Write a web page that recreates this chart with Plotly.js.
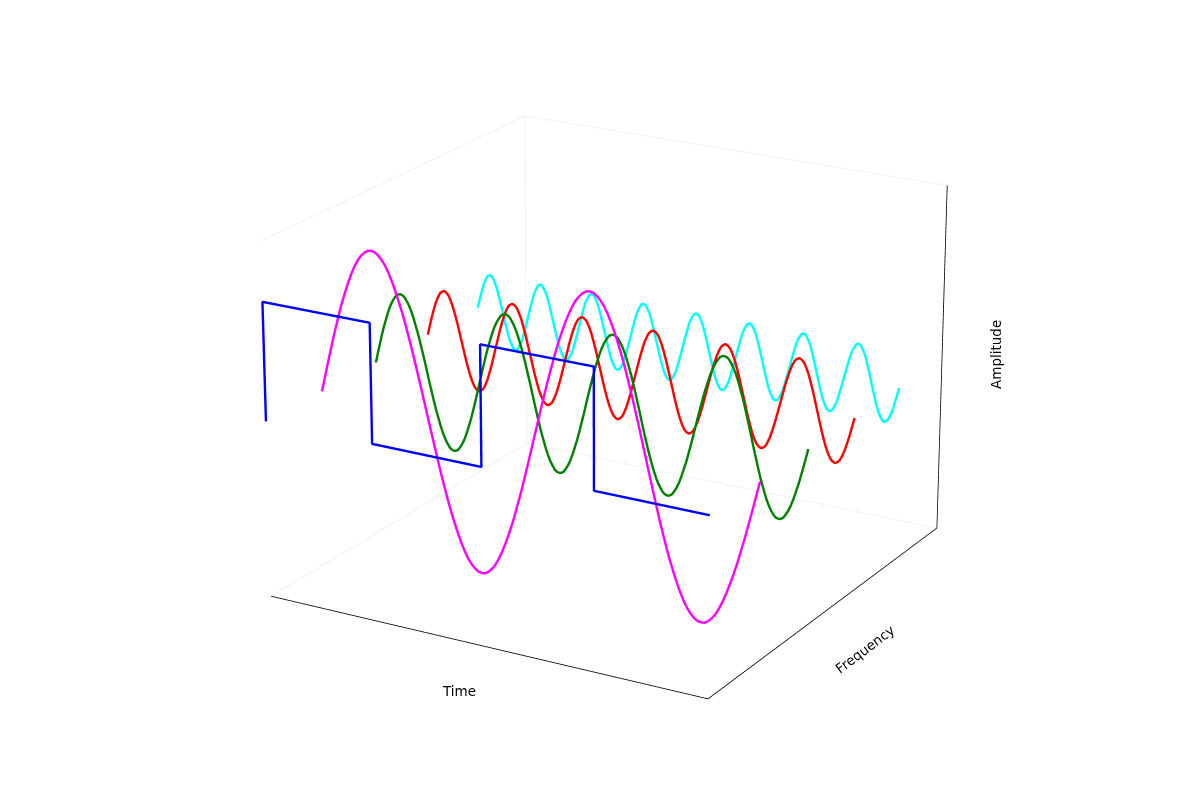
<!DOCTYPE html>
<html>
<head>
<meta charset="utf-8">
<script src="https://cdn.plot.ly/plotly-3.0.1.min.js"></script>
<style>html,body{margin:0;padding:0;background:#fff}#chart{width:1200px;height:800px}</style>
</head>
<body>
<div id="chart"></div>
<script>
var timeMax = 4;
var timeLimit = [0, 4];
var freqLimit = [0, 5];
var ampLimit = [-3, 3];
var depth = {square: 0, first: 1, second: 2, third: 3, fourth: 4};

var squareTime = [0, 0, 1, 1, 2, 2, 3, 3, 4];
var squareAmp = [0, 2, 2, 0, 0, 2, 2, 0, 0];

var firstAmp = [
0,.25,.5,.74,.98,1.2,1.42,1.62,1.8,1.97,2.12,2.25,2.36,2.44,2.5,2.54,2.55,2.54,2.5,2.44,2.36,2.25,2.12,1.97,1.8,1.62,1.42,1.2,.98,.74,.5,.25,
0,-.25,-.5,-.74,-.98,-1.2,-1.42,-1.62,-1.8,-1.97,-2.12,-2.25,-2.36,-2.44,-2.5,-2.54,-2.55,-2.54,-2.5,-2.44,-2.36,-2.25,-2.12,-1.97,-1.8,-1.62,-1.42,-1.2,-.98,-.74,-.5,-.25,
0,.25,.5,.74,.98,1.2,1.42,1.62,1.8,1.97,2.12,2.25,2.36,2.44,2.5,2.54,2.55,2.54,2.5,2.44,2.36,2.25,2.12,1.97,1.8,1.62,1.42,1.2,.98,.74,.5,.25,
0,-.25,-.5,-.74,-.98,-1.2,-1.42,-1.62,-1.8,-1.97,-2.12,-2.25,-2.36,-2.44,-2.5,-2.54,-2.55,-2.54,-2.5,-2.44,-2.36,-2.25,-2.12,-1.97,-1.8,-1.62,-1.42,-1.2,-.98,-.74,-.5,-.25,0];

var secondAmp = [
0,.17,.33,.49,.64,.77,.9,1.01,1.1,1.17,1.23,1.26,1.27,1.26,1.23,1.17,1.1,1.01,.9,.77,.64,.49,.33,.17,
0,-.17,-.33,-.49,-.64,-.77,-.9,-1.01,-1.1,-1.17,-1.23,-1.26,-1.27,-1.26,-1.23,-1.17,-1.1,-1.01,-.9,-.77,-.64,-.49,-.33,-.17,
0,.17,.33,.49,.64,.77,.9,1.01,1.1,1.17,1.23,1.26,1.27,1.26,1.23,1.17,1.1,1.01,.9,.77,.64,.49,.33,.17,
0,-.17,-.33,-.49,-.64,-.77,-.9,-1.01,-1.1,-1.17,-1.23,-1.26,-1.27,-1.26,-1.23,-1.17,-1.1,-1.01,-.9,-.77,-.64,-.49,-.33,-.17,
0,.17,.33,.49,.64,.77,.9,1.01,1.1,1.17,1.23,1.26,1.27,1.26,1.23,1.17,1.1,1.01,.9,.77,.64,.49,.33,.17,
0,-.17,-.33,-.49,-.64,-.77,-.9,-1.01,-1.1,-1.17,-1.23,-1.26,-1.27,-1.26,-1.23,-1.17,-1.1,-1.01,-.9,-.77,-.64,-.49,-.33,-.17,
0,.17,.33,.49,.64,.77,.9,1.01,1.1,1.17,1.23,1.26,1.27,1.26,1.23,1.17,1.1,1.01,.9,.77,.64,.49,.33,.17,
0,-.17,-.33,-.49,-.64,-.77,-.9,-1.01,-1.1,-1.17,-1.23,-1.26,-1.27,-1.26,-1.23,-1.17,-1.1,-1.01,-.9,-.77,-.64,-.49,-.33,-.17,0];

var thirdAmp = [
0,.16,.32,.46,.59,.69,.77,.81,.83,.81,.77,.69,.59,.46,.32,.16,0,-.16,-.32,-.46,-.59,-.69,-.77,-.81,-.83,-.81,-.77,-.69,-.59,-.46,-.32,-.16,
0,.16,.32,.46,.59,.69,.77,.81,.83,.81,.77,.69,.59,.46,.32,.16,0,-.16,-.32,-.46,-.59,-.69,-.77,-.81,-.83,-.81,-.77,-.69,-.59,-.46,-.32,-.16,
0,.16,.32,.46,.59,.69,.77,.81,.83,.81,.77,.69,.59,.46,.32,.16,0,-.16,-.32,-.46,-.59,-.69,-.77,-.81,-.83,-.81,-.77,-.69,-.59,-.46,-.32,-.16,
0,.16,.32,.46,.59,.69,.77,.81,.83,.81,.77,.69,.59,.46,.32,.16,0,-.16,-.32,-.46,-.59,-.69,-.77,-.81,-.83,-.81,-.77,-.69,-.59,-.46,-.32,-.16,
0,.16,.32,.46,.59,.69,.77,.81,.83,.81,.77,.69,.59,.46,.32,.16,0,-.16,-.32,-.46,-.59,-.69,-.77,-.81,-.83,-.81,-.77,-.69,-.59,-.46,-.32,-.16,
0,.16,.32,.46,.59,.69,.77,.81,.83,.81,.77,.69,.59,.46,.32,.16,0,-.16,-.32,-.46,-.59,-.69,-.77,-.81,-.83,-.81,-.77,-.69,-.59,-.46,-.32,-.16,0];

var fourthAmp = [
0,.16,.31,.45,.54,.61,.63,.61,.54,.45,.31,.16,0,-.16,-.31,-.45,-.54,-.61,-.63,-.61,-.54,-.45,-.31,-.16,
0,.16,.31,.45,.54,.61,.63,.61,.54,.45,.31,.16,0,-.16,-.31,-.45,-.54,-.61,-.63,-.61,-.54,-.45,-.31,-.16,
0,.16,.31,.45,.54,.61,.63,.61,.54,.45,.31,.16,0,-.16,-.31,-.45,-.54,-.61,-.63,-.61,-.54,-.45,-.31,-.16,
0,.16,.31,.45,.54,.61,.63,.61,.54,.45,.31,.16,0,-.16,-.31,-.45,-.54,-.61,-.63,-.61,-.54,-.45,-.31,-.16,
0,.16,.31,.45,.54,.61,.63,.61,.54,.45,.31,.16,0,-.16,-.31,-.45,-.54,-.61,-.63,-.61,-.54,-.45,-.31,-.16,
0,.16,.31,.45,.54,.61,.63,.61,.54,.45,.31,.16,0,-.16,-.31,-.45,-.54,-.61,-.63,-.61,-.54,-.45,-.31,-.16,
0,.16,.31,.45,.54,.61,.63,.61,.54,.45,.31,.16,0,-.16,-.31,-.45,-.54,-.61,-.63,-.61,-.54,-.45,-.31,-.16,
0,.16,.31,.45,.54,.61,.63,.61,.54,.45,.31,.16,0,-.16,-.31,-.45,-.54,-.61,-.63,-.61,-.54,-.45,-.31,-.16,0];

function timeFor(values){ return values.map(function(_, i){ return i * timeMax / (values.length - 1); }); }
function curve(x, yv, z, color){
  return {type:'scatter3d', mode:'lines', x:x, y:x.map(function(){return yv;}), z:z,
    line:{color:color, width:4.8}, hoverinfo:'skip', showlegend:false};
}
function edge(pts, color, w){
  return {type:'scatter3d', mode:'lines',
    x:pts.map(function(p){return timeLimit[p[0]];}),
    y:pts.map(function(p){return freqLimit[p[1]];}),
    z:pts.map(function(p){return ampLimit[p[2]];}),
    line:{color:color, width:w}, hoverinfo:'skip', showlegend:false};
}
var traces = [
  edge([[0,0,1],[0,1,1],[1,1,1]], '#f0f0f0', 2),
  edge([[0,1,1],[0,1,0]], '#f0f0f0', 2),
  edge([[0,0,0],[0,1,0],[1,1,0]], '#f0f0f0', 2),
  edge([[0,0,0],[1,0,0],[1,1,0],[1,1,1]], '#000000', 1.6),
  curve(squareTime, depth.square, squareAmp, '#0000ff'),
  curve(timeFor(firstAmp), depth.first, firstAmp, '#ff00ff'),
  curve(timeFor(secondAmp), depth.second, secondAmp, '#008000'),
  curve(timeFor(thirdAmp), depth.third, thirdAmp, '#ff0000'),
  curve(timeFor(fourthAmp), depth.fourth, fourthAmp, '#00ffff')
];
function hiddenAxis(range){
  return {range:range, autorange:false, showgrid:false, showline:false, zeroline:false, showticklabels:false,
    ticks:'', showspikes:false, showbackground:false, title:{text:''}};
}
var dist = 8.4;
var view = {x:0.4693, y:-0.8128, z:0.3453};
var shift = {x:-0.01545, y:-0.01718, z:-0.01949};
var font = {family:'DejaVu Sans', size:13.5, color:'#000'};
function label(px, py, text, angle){
  return {xref:'paper',yref:'paper',x:px/1200,y:1-py/800,xanchor:'center',yanchor:'middle',text:text,textangle:angle,showarrow:false,font:font};
}
var layout = {
  width:1200, height:800, margin:{l:0,r:0,t:0,b:0}, paper_bgcolor:'#fff', showlegend:false,
  scene:{
    domain:{x:[0,1],y:[0,1]},
    aspectmode:'manual', aspectratio:{x:1,y:1,z:0.75},
    xaxis:hiddenAxis(timeLimit), yaxis:hiddenAxis(freqLimit), zaxis:hiddenAxis(ampLimit),
    camera:{projection:{type:'perspective'}, up:{x:0,y:0,z:1}, center:shift,
      eye:{x:view.x*dist+shift.x, y:view.y*dist+shift.y, z:view.z*dist+shift.z}}
  },
  annotations:[ label(459,691,'Time',0), label(865,649,'Frequency',-37), label(996,355,'Amplitude',-90) ]
};
Plotly.newPlot('chart', traces, layout, {displayModeBar:false}).then(function(gd){
  var s = gd._fullLayout.scene._scene;
  if(s && s.glplot){ s.glplot.fovy = 0.1918; s.glplot.redraw(); }
});
</script>
</body>
</html>
